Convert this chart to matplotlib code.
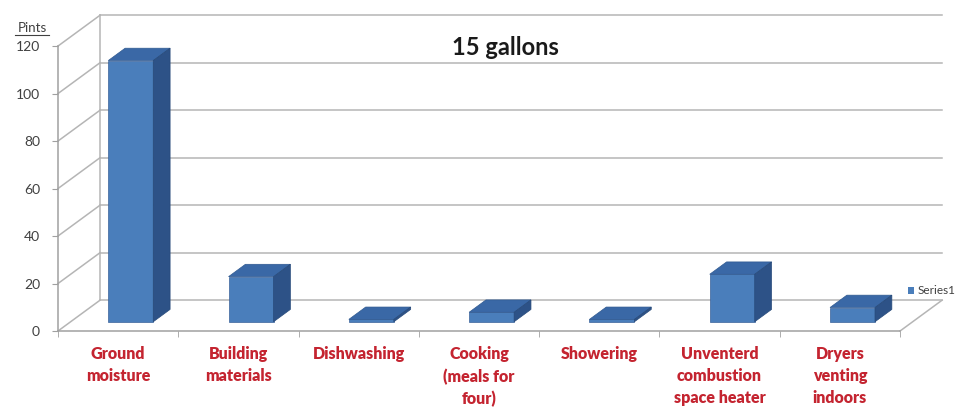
import numpy as np
import matplotlib
matplotlib.use("Agg")
import matplotlib.pyplot as plt
from matplotlib.patches import Polygon, Patch

plt.rcParams['font.family'] = ['Lato', 'DejaVu Sans']

categories = ["Ground\nmoisture", "Building\nmaterials", "Dishwashing",
              "Cooking\n(meals for\nfour)", "Showering",
              "Unventerd\ncombustion\nspace heater", "Dryers\nventing\nindoors"]
values = [110, 19, 1, 4, 1, 20, 6]
yticks = [0, 20, 40, 60, 80, 100, 120]
title = "15 gallons"
ylabel = "Pints"
series_name = "Series1"

# oblique "3d" depth, in data units (category units, pints)
DX, DY = 0.35, 13.0
d0, d1 = 0.3, 0.7      # bar front/back depth fraction
bw = 0.374

front_c = "#4a7ebb"
side_c = "#2d5287"
top_c = "#3a68a6"
grid_c = "#b5b5b5"

fig = plt.figure(figsize=(9.71, 4.12), dpi=100)
ax = fig.add_axes([0, 0, 1, 1])
ax.set_xlim(-0.982, 7.09)
ax.set_ylim(-34.1, 139.4)
ax.patch.set_alpha(0)

n = len(values)
x = np.arange(n)
ymax = yticks[-1]

# walls: left diagonals + back gridlines
for v in yticks:
    ax.plot([-0.5, -0.5 + DX], [v, v + DY], color=grid_c, lw=1.1, zorder=1)
    ax.plot([-0.5 + DX, n - 0.5 + DX], [v + DY, v + DY], color=grid_c, lw=1.1, zorder=1)
ax.plot([-0.5 + DX, -0.5 + DX], [DY, ymax + DY], color=grid_c, lw=1.1, zorder=1)
# floor right edge
ax.plot([n - 0.5, n - 0.5 + DX], [0, DY], color=grid_c, lw=1.1, zorder=1)

# bars: front faces
xc = x + d0 * DX
b0 = d0 * DY
ax.bar(xc, values, width=bw, bottom=b0, color=front_c, edgecolor="#3b639a",
       lw=0.5, zorder=3)
ddx, ddy = (d1 - d0) * DX, (d1 - d0) * DY
for xi, v in zip(xc, values):
    xl, xr = xi - bw / 2, xi + bw / 2
    top = b0 + v
    ax.add_patch(Polygon([(xl, top), (xr, top), (xr + ddx, top + ddy), (xl + ddx, top + ddy)],
                         closed=True, facecolor=top_c, edgecolor="#2f5990", lw=0.5, zorder=3))
    ax.add_patch(Polygon([(xr, b0), (xr, top), (xr + ddx, top + ddy), (xr + ddx, b0 + ddy)],
                         closed=True, facecolor=side_c, edgecolor="#274a7a", lw=0.5, zorder=3))

# axes spines as front axis lines
for s in ["top", "right"]:
    ax.spines[s].set_visible(False)
ax.spines["left"].set_position(("data", -0.5))
ax.spines["left"].set_bounds(0, ymax)
ax.spines["bottom"].set_position(("data", 0))
ax.spines["bottom"].set_bounds(-0.5, n - 0.5)
for s in ["left", "bottom"]:
    ax.spines[s].set_color("#a0a0a0")
    ax.spines[s].set_linewidth(1.1)

ax.set_yticks(yticks)
ax.set_yticklabels([str(v) for v in yticks], fontsize=10, color="#404040")
ax.tick_params(axis="y", direction="out", length=4, color="#a0a0a0", pad=9)

ax.set_xticks(x)
ax.set_xticklabels(categories, fontsize=11.5, fontweight="heavy", color="#c42430",
                   linespacing=1.45)
ax.tick_params(axis="x", which="major", length=0, pad=11)
ax.set_xticks(np.arange(n + 1) - 0.5, minor=True)
ax.tick_params(axis="x", which="minor", direction="out", length=4, color="#a0a0a0")

# y-axis unit label, underlined
ax.text(-0.715, ymax + 5.0, ylabel, fontsize=9.5, color="#404040", ha="center", va="bottom")
ax.plot([-0.855, -0.575], [ymax + 4.5, ymax + 4.5], color="#404040", lw=0.8)

ax.text(3.22, ymax - 0.5, title, fontsize=17, fontweight="bold", color="#1a1a1a",
        ha="center", va="center")

fig.legend(handles=[Patch(facecolor=front_c, label=series_name)], loc="center left",
           bbox_to_anchor=(0.924, 0.294), frameon=False, fontsize=8.5,
           handlelength=0.5, handleheight=0.5, handletextpad=0.3, labelcolor="#404040")

fig.savefig("out.png", dpi=100)
